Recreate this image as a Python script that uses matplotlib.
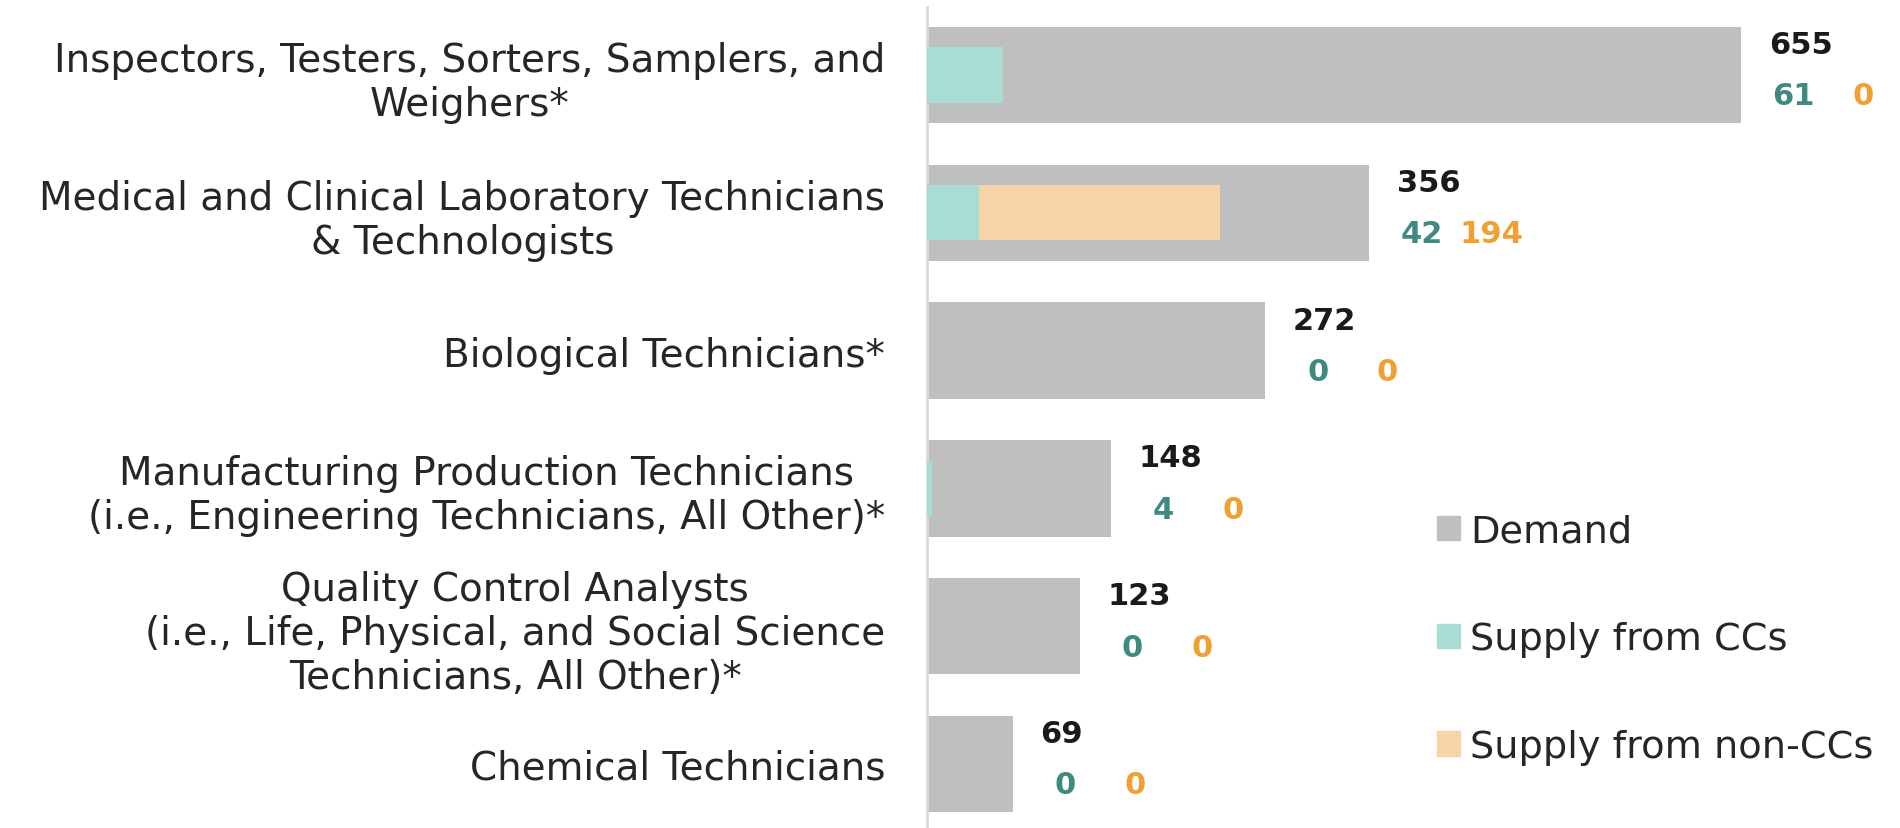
import numpy as np
import matplotlib
matplotlib.use('Agg')
import matplotlib.pyplot as plt
from matplotlib.patches import Patch

# data
occupations = ['Inspectors, Testers, Sorters, Samplers, and\nWeighers*',
               'Medical and Clinical Laboratory Technicians\n& Technologists',
               'Biological Technicians*',
               'Manufacturing Production Technicians\n(i.e., Engineering Technicians, All Other)*',
               'Quality Control Analysts\n(i.e., Life, Physical, and Social Science\nTechnicians, All Other)*',
               'Chemical Technicians']
demand = [655, 356, 272, 148, 123, 69]
supply_cc = [61, 42, 0, 4, 0, 0]
supply_noncc = [0, 194, 0, 0, 0, 0]

col_demand = '#bfbfbf'
col_cc = '#a9dcd2'
col_noncc = '#f6d4a8'
txt_cc = '#3e8a80'
txt_noncc = '#f0a030'

plt.rcParams['font.family'] = ['DejaVu Sans']

fig = plt.figure(figsize=(19, 8.29), dpi=100)
ax = fig.add_axes([927 / 1900, 0, 1 - 927 / 1900, 821 / 829])

y = np.arange(len(occupations))
ax.barh(y, demand, height=0.70, color=col_demand, zorder=2)
ax.barh(y, supply_cc, height=0.40, color=col_cc, zorder=3)
ax.barh(y, supply_noncc, left=supply_cc, height=0.40, color=col_noncc, zorder=3)

# value labels: demand on top, supply below
for i in range(len(occupations)):
    ax.annotate(str(demand[i]), xy=(demand[i], i), xytext=(20, 22), textcoords='offset points',
                ha='left', va='center', fontsize=22, fontweight='bold', color='#1a1a1a')
    ax.annotate(str(supply_cc[i]), xy=(demand[i], i), xytext=(38, -15), textcoords='offset points',
                ha='center', va='center', fontsize=22, fontweight='bold', color=txt_cc)
    ax.annotate(str(supply_noncc[i]), xy=(demand[i], i), xytext=(88, -15), textcoords='offset points',
                ha='center', va='center', fontsize=22, fontweight='bold', color=txt_noncc)

ax.set_xlim(0, 783)
ax.set_ylim(5 + (829 - 765) / 137.8, -(76 - 8) / 137.8)
ax.set_yticks(y)
ax.set_yticklabels(occupations, fontsize=28, color='#262626', linespacing=1.2)
for lbl in ax.get_yticklabels():
    lbl.set_multialignment('center')
ax.tick_params(axis='y', length=0, pad=30)
ax.set_xticks([])
for s in ['top', 'right', 'bottom']:
    ax.spines[s].set_visible(False)
ax.spines['left'].set_color('#d9d9d9')
ax.spines['left'].set_linewidth(2)

handles = [Patch(color=col_demand, label='Demand'),
           Patch(color=col_cc, label='Supply from CCs'),
           Patch(color=col_noncc, label='Supply from non-CCs')]
ax.legend(handles=handles, loc='upper left', bbox_to_anchor=(1403 / 1900, 1 - 480 / 829),
          bbox_transform=fig.transFigure, frameon=False, fontsize=27.5,
          handlelength=0.6, handleheight=0.6, handletextpad=0.25, labelspacing=1.88,
          labelcolor='#262626')

plt.savefig('out.png', dpi=100, facecolor='white')
